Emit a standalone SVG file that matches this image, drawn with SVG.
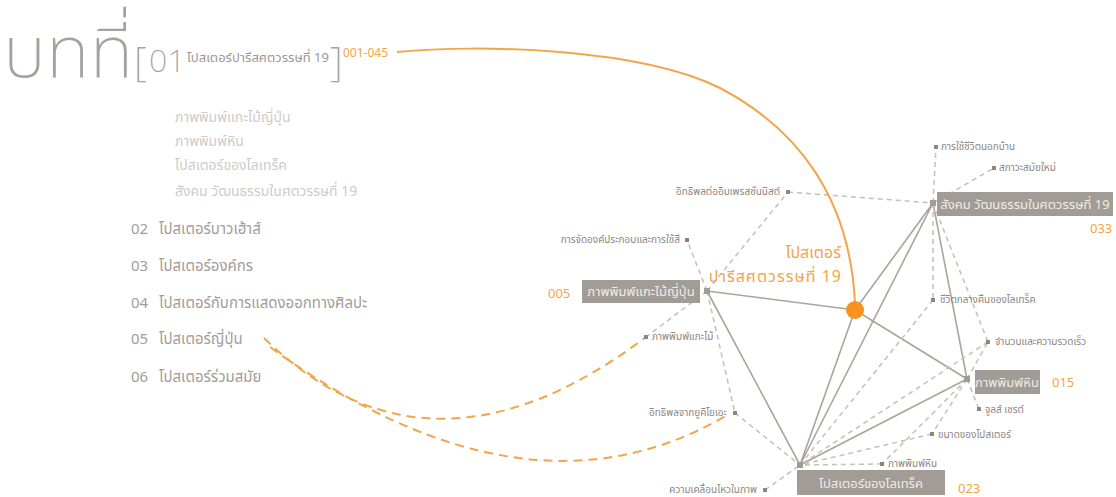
<svg xmlns="http://www.w3.org/2000/svg" width="1116" height="497" viewBox="0 0 1116 497">
<style>
text{font-family:"Noto Sans Thai","Noto Sans","DejaVu Sans",sans-serif}
.big{fill:#a6a19c;font-weight:200}
.h1{fill:#9e9893;font-size:13px}
.sub{fill:#cfcbc7;font-size:14px}
.ch{fill:#a39d98;font-size:15px}
.num{fill:#f2a54a}
.lbl{fill:#8c8681;font-size:10px}
.box{fill:#a29c96}
.bt{fill:#eeebe8;font-size:13px}
.solid{stroke:#aaa49f;stroke-width:1.6;fill:none}
.dash{stroke:#c4bfba;stroke-width:1.5;stroke-dasharray:5 4;fill:none}
.odash{stroke:#f2a54a;stroke-width:2;stroke-dasharray:9 6;fill:none}
.hub{fill:#a29c96}
.dot{fill:#8c8681}
</style>
<rect width="1116" height="497" fill="#ffffff"/>
<g id="title">
<text class="big" x="3" y="77" font-size="72">บทที่</text>
<text class="big" x="134" y="76" font-size="40">[</text>
<text class="big" x="149" y="72" font-size="32">01</text>
<text class="h1" x="187" y="62">โปสเตอร์ปารีสศตวรรษที่ 19</text>
<text class="big" x="330" y="76" font-size="40">]</text>
<text class="num" x="343" y="57" font-size="12">001-045</text>
</g>
<g id="subitems">
<text class="sub" x="175" y="122">ภาพพิมพ์แกะไม้ญี่ปุ่น</text>
<text class="sub" x="175" y="146">ภาพพิมพ์หิน</text>
<text class="sub" x="175" y="170">โปสเตอร์ของโลเทร็ค</text>
<text class="sub" x="175" y="196">สังคม วัฒนธรรมในศตวรรษที่ 19</text>
</g>
<g id="chapters">
<text class="ch" x="131" y="234">02</text><text class="ch" x="159" y="234">โปสเตอร์บาวเฮ้าส์</text>
<text class="ch" x="131" y="271">03</text><text class="ch" x="159" y="271">โปสเตอร์องค์กร</text>
<text class="ch" x="131" y="308">04</text><text class="ch" x="159" y="308">โปสเตอร์กับการแสดงออกทางศิลปะ</text>
<text class="ch" x="131" y="344">05</text><text class="ch" x="159" y="344">โปสเตอร์ญี่ปุ่น</text>
<text class="ch" x="131" y="382">06</text><text class="ch" x="159" y="382">โปสเตอร์ร่วมสมัย</text>
</g>
<g id="connectors">
<path class="solid" d="M855,310 L707,291 M855,310 L933,203 M855,310 L967,379 M855,310 L800,465 M707,291 L800,465 M933,203 L800,465 M933,203 L967,379 M967,379 L800,465"/>
<path class="dash" d="M707,291 L687,240 M707,291 L788,192 M707,291 L646,337 M707,291 L735,413 M788,192 L933,203 M735,413 L800,465 M765,490 L800,465 M933,203 L936,147 M933,203 L994,168 M933,203 L933,300 M933,203 L988,342 M933,300 L800,465 M988,342 L800,465 M932,434 L800,465 M882,464 L800,465 M967,379 L979,409 M967,379 L932,434 M967,379 L882,464 M967,379 L988,342"/>
<path d="M397,52 C480,44 640,48 720,88 C800,130 850,200 855,303" fill="none" stroke="#f2a54a" stroke-width="2"/>
<path class="odash" d="M264,338 Q430,500 646,337"/>
<path class="odash" d="M270,347 Q527,534 729,414"/>
</g>
<g id="center">
<circle cx="855" cy="310" r="9" fill="#f7931e"/>
<text class="num" x="841" y="258" font-size="16" text-anchor="end">โปสเตอร์</text>
<text class="num" x="842" y="282" font-size="16" letter-spacing="1" text-anchor="end">ปารีสศตวรรษที่ 19</text>
</g>
<g id="node-a">
<rect class="box" x="582" y="280" width="118" height="23"/>
<text class="bt" x="641" y="296" text-anchor="middle">ภาพพิมพ์แกะไม้ญี่ปุ่น</text>
<text class="num" x="548" y="298" font-size="13">005</text>
<rect class="hub" x="704" y="288" width="6" height="6"/>
</g>
<g id="node-b">
<rect class="box" x="937" y="192" width="176" height="24"/>
<text class="bt" x="1025" y="209" text-anchor="middle">สังคม วัฒนธรรมในศตวรรษที่ 19</text>
<text class="num" x="1090" y="233" font-size="13">033</text>
<rect class="hub" x="930" y="200" width="6" height="6"/>
</g>
<g id="node-c">
<rect class="box" x="975" y="370" width="65" height="24"/>
<text class="bt" x="1007" y="387" text-anchor="middle">ภาพพิมพ์หิน</text>
<text class="num" x="1052" y="387" font-size="13">015</text>
<rect class="hub" x="964" y="376" width="6" height="6"/>
</g>
<g id="node-d">
<rect class="box" x="797" y="470" width="148" height="25"/>
<text class="bt" x="871" y="488" text-anchor="middle">โปสเตอร์ของโลเทร็ค</text>
<text class="num" x="958" y="493" font-size="13">023</text>
<rect class="hub" x="797" y="462" width="6" height="6"/>
</g>
<g id="leaves">
<rect class="dot" x="786" y="190" width="4" height="4"/><text class="lbl" x="780" y="195" text-anchor="end">อิทธิพลต่ออิมเพรสชั่นนิสต์</text>
<rect class="dot" x="685" y="238" width="4" height="4"/><text class="lbl" x="680" y="243" text-anchor="end">การจัดองค์ประกอบและการใช้สี</text>
<rect class="dot" x="644" y="335" width="4" height="4"/><text class="lbl" x="652" y="340">ภาพพิมพ์แกะไม้</text>
<rect class="dot" x="733" y="411" width="4" height="4"/><text class="lbl" x="727" y="416" text-anchor="end">อิทธิพลจากยูคิโยเอะ</text>
<rect class="dot" x="763" y="488" width="4" height="4"/><text class="lbl" x="757" y="493" text-anchor="end">ความเคลื่อนไหวในภาพ</text>
<rect class="dot" x="934" y="145" width="4" height="4"/><text class="lbl" x="941" y="150">การใช้ชีวิตนอกบ้าน</text>
<rect class="dot" x="992" y="166" width="4" height="4"/><text class="lbl" x="999" y="171">สภาวะสมัยใหม่</text>
<rect class="dot" x="931" y="298" width="4" height="4"/><text class="lbl" x="940" y="303">ชีวิตกลางคืนของโลเทร็ค</text>
<rect class="dot" x="986" y="340" width="4" height="4"/><text class="lbl" x="995" y="345">จำนวนและความรวดเร็ว</text>
<rect class="dot" x="977" y="407" width="4" height="4"/><text class="lbl" x="985" y="413">จูลส์ เชรต์</text>
<rect class="dot" x="930" y="432" width="4" height="4"/><text class="lbl" x="938" y="438">ขนาดของโปสเตอร์</text>
<rect class="dot" x="880" y="462" width="4" height="4"/><text class="lbl" x="888" y="467">ภาพพิมพ์หิน</text>
</g>
</svg>
